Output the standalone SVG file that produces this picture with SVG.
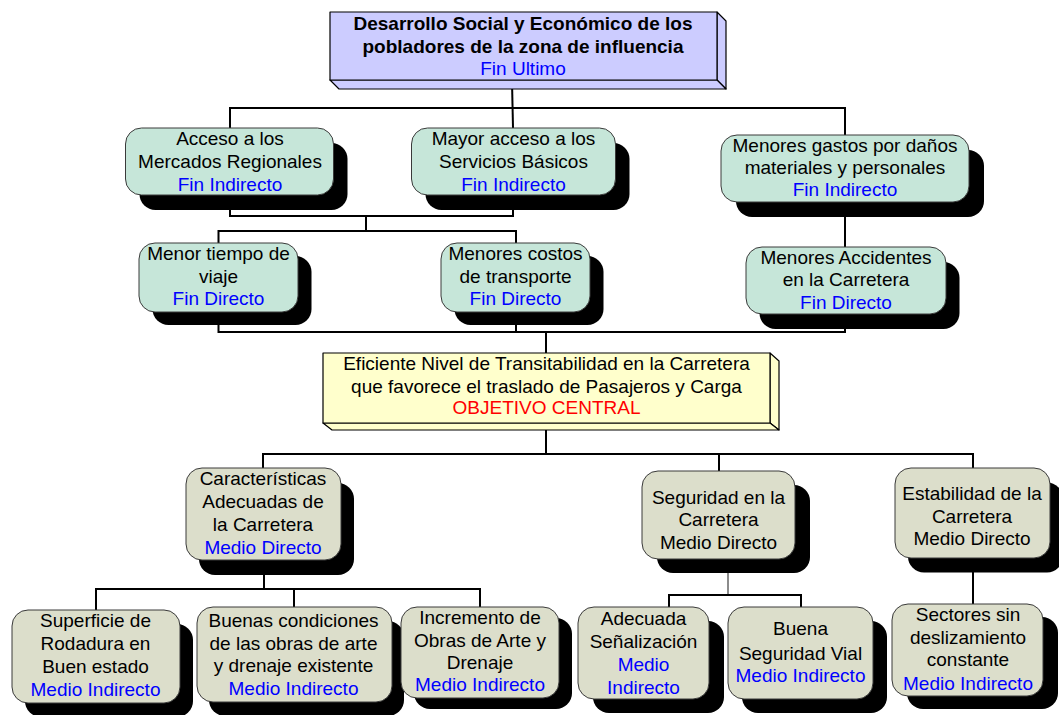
<svg xmlns="http://www.w3.org/2000/svg" width="1059" height="715" viewBox="0 0 1059 715">
  <style>
    text { font-family: "Liberation Sans", Arial, sans-serif; font-size: 19px; text-anchor: middle; fill: #000; }
    .bold { font-weight: bold; }
    .blue { fill: #0000FF; }
    .red { fill: #FF0000; }
    .sh { fill: #000; }
    .mint { fill: #C6E6D9; stroke: #3a3a3a; stroke-width: 1; }
    .beige { fill: #DCDECB; stroke: #3a3a3a; stroke-width: 1; }
    .lav { fill: #CCCCFF; stroke: #000; stroke-width: 1.2; stroke-linejoin: round; }
    .yel { fill: #FFFFCC; stroke: #000; stroke-width: 1.2; stroke-linejoin: round; }
    .conn { stroke: #000; stroke-width: 2; fill: none; }
    .thin { stroke: #666; stroke-width: 1.5; fill: none; }
  </style>

  <!-- connectors (drawn first, nodes sit on top) -->
  <g id="connectors">
    <path class="conn" d="M512,81 L513,128"/>
    <path class="conn" d="M230,128 V108 H845 V135"/>
    <path class="conn" d="M230,195 V216 H513 V195"/>
    <path class="conn" d="M366,216 V231"/>
    <path class="conn" d="M218.5,243 V231 H516 V243"/>
    <path class="conn" d="M845,202 V247"/>
    <path class="conn" d="M218.5,312 V332 H845 V314"/>
    <path class="conn" d="M516,312 V332"/>
    <path class="conn" d="M546,332 V353"/>
    <path class="conn" d="M546,430 V454"/>
    <path class="conn" d="M263,468 V454 H973 V468"/>
    <path class="conn" d="M719,454 V471"/>
    <path class="conn" d="M264,560 V589"/>
    <path class="conn" d="M96,610 V589 H480 V607"/>
    <path class="conn" d="M294,589 V607"/>
    <path class="thin" d="M728,559 V595"/>
    <path class="conn" d="M669,607 V595 H801 V607"/>
    <path class="conn" d="M973,558 V604"/>
  </g>

  <!-- final goal: 3D block -->
  <g id="fin-ultimo">
    <polygon class="lav" points="717,12 726,21 726,89 717,80"/>
    <polygon class="lav" points="330,80 717,80 726,89 339,89"/>
    <rect class="lav" x="330" y="12" width="387" height="68"/>
    <text class="bold" x="523" y="30">Desarrollo Social y Económico de los</text>
    <text class="bold" x="523" y="53">pobladores de la zona de influencia</text>
    <text class="blue" x="523" y="75">Fin Ultimo</text>
  </g>

  <g id="acceso-mercados">
    <rect class="sh" x="139.5" y="143" width="208" height="67" rx="16"/>
    <rect class="mint" x="125.5" y="128" width="208" height="67" rx="16"/>
    <text x="230" y="145">Acceso a los</text>
    <text x="230" y="168">Mercados Regionales</text>
    <text class="blue" x="230" y="191">Fin Indirecto</text>
  </g>

  <g id="acceso-servicios">
    <rect class="sh" x="425.5" y="143" width="204" height="67" rx="16"/>
    <rect class="mint" x="411.5" y="128" width="204" height="67" rx="16"/>
    <text x="513.5" y="145">Mayor acceso a los</text>
    <text x="513.5" y="168">Servicios Básicos</text>
    <text class="blue" x="513.5" y="191">Fin Indirecto</text>
  </g>

  <g id="menores-gastos">
    <rect class="sh" x="736" y="150" width="248" height="67" rx="16"/>
    <rect class="mint" x="721" y="135" width="248" height="67" rx="16"/>
    <text x="845" y="152">Menores gastos por daños</text>
    <text x="845" y="174">materiales y personales</text>
    <text class="blue" x="845" y="196">Fin Indirecto</text>
  </g>

  <g id="menor-tiempo">
    <rect class="sh" x="152.5" y="256" width="159" height="69" rx="16"/>
    <rect class="mint" x="139" y="243" width="159" height="69" rx="16"/>
    <text x="218.5" y="260">Menor tiempo de</text>
    <text x="218.5" y="282.5">viaje</text>
    <text class="blue" x="218.5" y="305">Fin Directo</text>
  </g>

  <g id="menores-costos">
    <rect class="sh" x="454.5" y="256" width="149" height="69" rx="16"/>
    <rect class="mint" x="441" y="243" width="149" height="69" rx="16"/>
    <text x="515.5" y="260">Menores costos</text>
    <text x="515.5" y="282.5">de transporte</text>
    <text class="blue" x="515.5" y="305">Fin Directo</text>
  </g>

  <g id="menores-accidentes">
    <rect class="sh" x="759.5" y="262" width="200" height="67" rx="16"/>
    <rect class="mint" x="746" y="247" width="200" height="67" rx="16"/>
    <text x="846" y="263.5">Menores Accidentes</text>
    <text x="846" y="286">en la Carretera</text>
    <text class="blue" x="846" y="308.5">Fin Directo</text>
  </g>

  <!-- central objective: 3D block -->
  <g id="objetivo-central">
    <polygon class="yel" points="770,353 779,361 779,430 770,423"/>
    <polygon class="yel" points="323,423 770,423 779,430 332,430"/>
    <rect class="yel" x="323" y="353" width="447" height="70"/>
    <text x="546.5" y="369.5">Eficiente Nivel de Transitabilidad en la Carretera</text>
    <text x="546.5" y="392.5">que favorece el traslado de Pasajeros y Carga</text>
    <text class="red" x="546.5" y="414">OBJETIVO CENTRAL</text>
  </g>

  <g id="caracteristicas">
    <rect class="sh" x="199" y="483" width="155" height="92" rx="16"/>
    <rect class="beige" x="186" y="468" width="155" height="92" rx="16"/>
    <text x="263" y="485">Características</text>
    <text x="263" y="508">Adecuadas de</text>
    <text x="263" y="531">la Carretera</text>
    <text class="blue" x="263" y="553.5">Medio Directo</text>
  </g>

  <g id="seguridad">
    <rect class="sh" x="657" y="485" width="153" height="88" rx="16"/>
    <rect class="beige" x="642" y="471" width="153" height="88" rx="16"/>
    <text x="718.5" y="503.5">Seguridad en la</text>
    <text x="718.5" y="526">Carretera</text>
    <text x="718.5" y="548.5">Medio Directo</text>
  </g>

  <g id="estabilidad">
    <rect class="sh" x="908" y="482.5" width="155" height="90" rx="16"/>
    <rect class="beige" x="895" y="468" width="155" height="90" rx="16"/>
    <text x="972" y="500">Estabilidad de la</text>
    <text x="972" y="523">Carretera</text>
    <text x="972" y="545">Medio Directo</text>
  </g>

  <g id="superficie">
    <rect class="sh" x="25" y="624" width="168" height="93" rx="16"/>
    <rect class="beige" x="12" y="610" width="168" height="93" rx="16"/>
    <text x="95.5" y="627">Superficie de</text>
    <text x="95.5" y="650">Rodadura en</text>
    <text x="95.5" y="672.5">Buen estado</text>
    <text class="blue" x="95.5" y="696">Medio Indirecto</text>
  </g>

  <g id="buenas-condiciones">
    <rect class="sh" x="209" y="621" width="195" height="95" rx="16"/>
    <rect class="beige" x="197" y="607" width="195" height="95" rx="16"/>
    <text x="293.5" y="627">Buenas condiciones</text>
    <text x="293.5" y="650">de las obras de arte</text>
    <text x="293.5" y="672">y drenaje existente</text>
    <text class="blue" x="293.5" y="695">Medio Indirecto</text>
  </g>

  <g id="incremento-obras">
    <rect class="sh" x="414" y="618" width="158" height="91" rx="16"/>
    <rect class="beige" x="401" y="607" width="158" height="91" rx="16"/>
    <text x="480" y="623.5">Incremento de</text>
    <text x="480" y="647">Obras de Arte y</text>
    <text x="480" y="668.5">Drenaje</text>
    <text class="blue" x="480" y="691">Medio Indirecto</text>
  </g>

  <g id="senalizacion">
    <rect class="sh" x="593" y="621" width="131" height="92" rx="16"/>
    <rect class="beige" x="578" y="607" width="131" height="92" rx="16"/>
    <text x="643.5" y="625">Adecuada</text>
    <text x="643.5" y="647.5">Señalización</text>
    <text class="blue" x="643.5" y="671">Medio</text>
    <text class="blue" x="643.5" y="693.5">Indirecto</text>
  </g>

  <g id="seguridad-vial">
    <rect class="sh" x="742" y="621" width="145" height="92" rx="16"/>
    <rect class="beige" x="728" y="607" width="145" height="92" rx="16"/>
    <text x="800.5" y="635">Buena</text>
    <text x="800.5" y="659.5">Seguridad Vial</text>
    <text class="blue" x="800.5" y="682">Medio Indirecto</text>
  </g>

  <g id="sectores">
    <rect class="sh" x="907" y="617" width="151" height="92" rx="16"/>
    <rect class="beige" x="892" y="604" width="151" height="92" rx="16"/>
    <text x="968" y="621">Sectores sin</text>
    <text x="968" y="643.5">deslizamiento</text>
    <text x="968" y="666">constante</text>
    <text class="blue" x="968" y="689.5">Medio Indirecto</text>
  </g>
</svg>
